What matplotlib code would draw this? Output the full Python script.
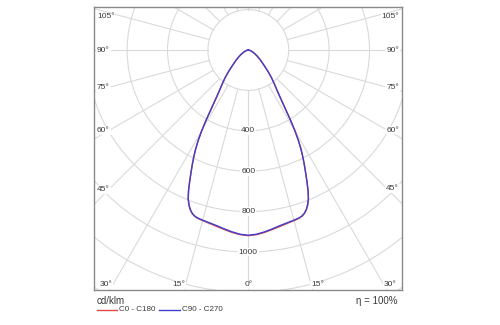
import numpy as np
import matplotlib
matplotlib.use("Agg")
import matplotlib.pyplot as plt
from matplotlib.patches import Circle
from matplotlib.lines import Line2D

plt.rcParams['font.family'] = ['Liberation Sans', 'DejaVu Sans']

# luminous intensity (cd/klm) against gamma angle from nadir, symmetric planes
gamma = [0, 2.5, 5, 7.5, 10, 12.5, 15, 16, 17, 18, 19, 20, 21, 22, 23, 24, 25, 26, 27, 28,
         29, 30, 31, 32, 33, 34, 35, 37.5, 40, 42.5, 45, 50, 55, 60, 65, 70, 75, 80, 85, 90]
c0_c180 = [919, 915, 907, 897, 888, 880, 874, 872, 869, 864, 855, 841, 821, 795, 758, 715,
           673, 634, 596, 556, 512, 462, 408, 355, 314, 282, 256, 213, 178, 145, 116, 80, 56,
           38, 25, 16, 9, 4, 1, 0]
c90_c270 = [917, 913, 904, 894, 884, 877, 872, 870, 868, 863, 854, 840, 820, 794, 757, 714,
            672, 633, 595, 555, 511, 461, 407, 354, 313, 281, 255, 212, 178, 145, 116, 80, 56,
            38, 25, 16, 9, 4, 1, 0]

rings = [200, 400, 600, 800, 1000, 1200, 1400, 1600]
ring_labels = [400, 600, 800, 1000]
side_angles = [45, 60, 75, 90, 105]
bottom_angles = [0, 15, 30]
legend_names = ["C0 - C180", "C90 - C270"]
efficiency = "100%"

RED = '#e04848'
BLUE = '#4040cc'
GRID = '#dadada'
TXT = '#3a3a3a'


def plane_xy(values):
    # mirror the half-plane so it spans from C180 (left) to C0 (right)
    g = np.radians(np.concatenate([-np.array(gamma[::-1]), np.array(gamma[1:])]))
    r = np.concatenate([np.array(values[::-1]), np.array(values[1:])])
    return r * np.sin(g), -r * np.cos(g)


fig = plt.figure(figsize=(5, 3.25), dpi=100)
ax = fig.add_axes([0.188, 0.1077, 0.616, 0.8708])
xmin, xmax = -764, 761
ymin, ymax = -1188, 213
ax.set_xlim(xmin, xmax)
ax.set_ylim(ymin, ymax)
ax.set_xticks([])
ax.set_yticks([])
for s in ax.spines.values():
    s.set_color('#8a8a8a')
    s.set_linewidth(1.0)

unit = (xmax - xmin) / 308.0  # data units per pixel

# polar grid
for r in rings:
    ax.add_patch(Circle((0, 0), r, fill=False, ec=GRID, lw=0.8, zorder=1))
for a in range(0, 360, 15):
    t = np.radians(a)
    ax.plot([200 * np.sin(t), 3000 * np.sin(t)], [-200 * np.cos(t), -3000 * np.cos(t)],
            color=GRID, lw=0.8, zorder=1)

box = dict(boxstyle='square,pad=0.1', fc='white', ec='none')

for v in ring_labels:
    ax.text(0, -v, str(v), ha='center', va='center', fontsize=6, color=TXT, bbox=box, zorder=3)

# angle labels along the sides
for a in side_angles:
    for sign in (-1, 1):
        edge = xmax if sign > 0 else xmin
        xl = abs(edge) - 15 * unit
        y = -xl * np.cos(np.radians(a)) / np.sin(np.radians(a))
        y = min(y, ymax - 10 * unit)
        ha = 'left' if sign < 0 else 'right'
        ax.text(edge - sign * 3 * unit, y, f"{a}°", ha=ha, va='center',
                fontsize=6, color=TXT, bbox=box, zorder=3)

# angle labels along the bottom
yb = ymin + 5 * unit
for a in bottom_angles:
    for sign in ((1,) if a == 0 else (-1, 1)):
        x = sign * abs(yb) * np.tan(np.radians(a))
        ha = 'center' if a == 0 else ('right' if sign < 0 else 'left')
        ax.text(x, yb, f"{a}°", ha=ha, va='center', fontsize=6, color=TXT, bbox=box, zorder=3)

x0, y0 = plane_xy(c0_c180)
x1, y1 = plane_xy(c90_c270)
ax.plot(x0, y0, color=RED, lw=1.0, zorder=4)
ax.plot(x1, y1, color=BLUE, lw=1.0, zorder=5)

# footer: unit, efficiency and legend
fig.text(97 / 500, 1 - 301 / 325, "cd/klm", ha='left', va='center', fontsize=7, color=TXT)
fig.text(397 / 500, 1 - 301 / 325, "η = " + efficiency, ha='right', va='center', fontsize=7, color=TXT)
for (xa, xb), name, col in zip([(97, 117), (159, 180)], legend_names, [RED, BLUE]):
    yy = 1 - 309.5 / 325
    fig.add_artist(Line2D([xa / 500, xb / 500], [yy, yy], color=col, lw=1.0))
    fig.text((xb + 2) / 500, yy, name, ha='left', va='center', fontsize=5.8, color=TXT)

fig.savefig("out.png", dpi=100)
